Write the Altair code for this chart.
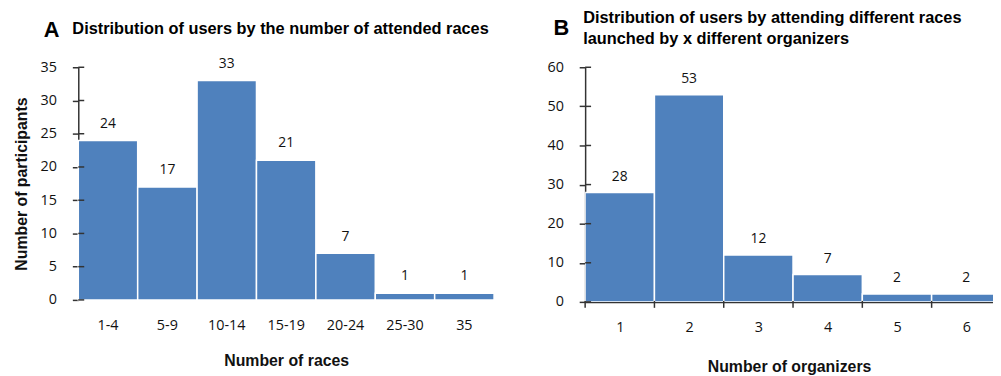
import altair as alt
import pandas as pd

races_cats = ["1-4", "5-9", "10-14", "15-19", "20-24", "25-30", "35"]
races_vals = [24, 17, 33, 21, 7, 1, 1]
org_cats = [1, 2, 3, 4, 5, 6]
org_vals = [28, 53, 12, 7, 2, 2]
races_ticks = [0, 5, 10, 15, 20, 25, 30, 35]
org_ticks = [0, 10, 20, 30, 40, 50, 60]
org_bounds = [0.5, 1.5, 2.5, 3.5, 4.5, 5.5]

dfa = pd.DataFrame({"cat": races_cats, "val": races_vals})
dfb = pd.DataFrame({"cat": org_cats, "val": org_vals})

BLUE = "#4F81BD"
AXC = "#333333"
LABEL_FONT = "Open Sans"
TITLE_FONT = "Liberation Sans"
LFS = 14.5
TFS = 16.5
HA, HB = 235, 237


def yaxis(ticks, ytitle):
    ykw = dict(values=ticks, tickCount=len(ticks), grid=False, labelOverlap=False,
               labelFont=LABEL_FONT, labelFontSize=LFS, labelColor="#111",
               domainColor=AXC, tickColor=AXC, tickSize=6, labelPadding=16,
               domainWidth=1.5, tickWidth=1.5)
    if ytitle:
        return alt.Axis(title=ytitle, titleFont=TITLE_FONT, titleFontSize=16,
                        titleFontWeight="bold", titleColor="#111", titlePadding=11, **ykw)
    return alt.Axis(title=None, **ykw)


def inner_ticks(ticks):
    return alt.Chart(pd.DataFrame({"v": ticks})).mark_rule(
        color=AXC, strokeWidth=1.5).encode(
        y=alt.Y("v:Q"), x=alt.value(0), x2=alt.value(6))


def txt(s, x, y, size):
    return alt.Chart(pd.DataFrame({"t": [s]})).mark_text(
        font=TITLE_FONT, fontSize=size, fontWeight="bold", align="left",
        baseline="alphabetic", color="#000").encode(x=alt.value(x), y=alt.value(y), text="t:N")


# ---------- Panel A ----------
xa = alt.X("cat:N", sort=races_cats, scale=alt.Scale(paddingInner=0, paddingOuter=0),
           axis=alt.Axis(title="Number of races", labelAngle=0, labelFont=LABEL_FONT,
                         labelFontSize=LFS, labelColor="#111", labelPadding=19,
                         ticks=False, domain=False,
                         titleFont=TITLE_FONT, titleFontSize=16, titleFontWeight="bold",
                         titlePadding=21, titleColor="#111"))
ya = alt.Y("val:Q", scale=alt.Scale(domain=[0, 35], nice=False),
           axis=yaxis(races_ticks, "Number of participants"))
basea = alt.Chart(dfa)
bars_a = basea.mark_bar(color=BLUE, stroke="white", strokeWidth=1.5).encode(x=xa, y=ya)
lab_a = basea.mark_text(dy=-13, font=LABEL_FONT, fontSize=LFS - 0.5, color="#111",
                        baseline="alphabetic").encode(
    x=alt.X("cat:N", sort=races_cats), y="val:Q", text="val:Q")
a = alt.layer(bars_a, lab_a, inner_ticks(races_ticks),
              txt("A", -35, -31, 22),
              txt("Distribution of users by the number of attended races", -6, -34, TFS)
              ).properties(width=420, height=HA)

# ---------- Panel B ----------
BW = 412
xdom = [0.5, 0.5 + BW / 70.0]
xb_scale = alt.Scale(domain=xdom, nice=False, zero=False)
xb_axis = alt.Axis(title="Number of organizers", values=org_cats, tickCount=6, format="d",
                   labelFont=LABEL_FONT, labelFontSize=LFS, labelColor="#111", labelPadding=19,
                   ticks=False, domain=True, domainColor=AXC, domainWidth=1.5, grid=False,
                   titleFont=TITLE_FONT, titleFontSize=16, titleFontWeight="bold",
                   titlePadding=25, titleColor="#111")
baseb = alt.Chart(dfb).transform_calculate(lo="datum.cat - 0.5", hi="datum.cat + 0.5")
bars_b = baseb.mark_bar(color=BLUE, stroke="white", strokeWidth=1.5, clip=True).encode(
    x=alt.X("lo:Q", scale=xb_scale, axis=xb_axis), x2="hi:Q",
    y=alt.Y("val:Q", scale=alt.Scale(domain=[0, 60], nice=False), axis=yaxis(org_ticks, None)),
    y2=alt.datum(0))
lab_b = alt.Chart(dfb).mark_text(dy=-12, font=LABEL_FONT, fontSize=LFS - 0.5, color="#111",
                                 baseline="alphabetic", clip=True).encode(
    x=alt.X("cat:Q"), y="val:Q", text="val:Q")
bticks = alt.Chart(pd.DataFrame({"bnd": org_bounds})).mark_rule(
    color=AXC, strokeWidth=1.5).encode(
    x=alt.X("bnd:Q"), y=alt.value(HB - 1), y2=alt.value(HB + 6))
b = alt.layer(bars_b, lab_b, inner_ticks(org_ticks), bticks,
              txt("B", -32, -33, 22),
              txt("Distribution of users by attending different races", -2, -45, TFS),
              txt("launched by x different organizers", -2, -24, TFS)
              ).properties(width=BW, height=HB)

chart = alt.hconcat(a, b, spacing=92, bounds="flush").configure_view(stroke=None).properties(
    padding={"left": 5, "top": 0, "right": 0, "bottom": 0})

chart.save("out.html", embed_options={"renderer": "svg", "actions": False})
